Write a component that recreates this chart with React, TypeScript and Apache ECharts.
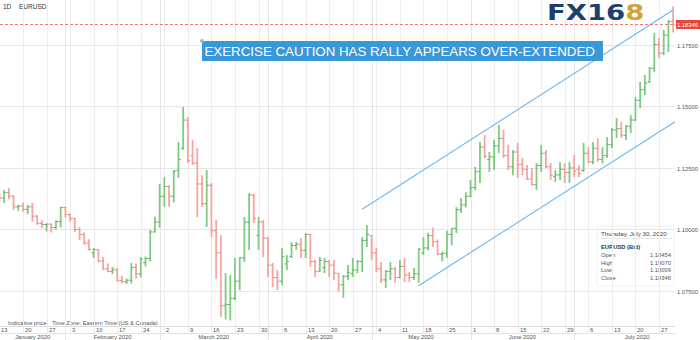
import { useEffect, useRef } from "react";
import * as echarts from "echarts";

// ---- data: daily OHLC bars (EURUSD, 1D), in bar-position order ----
const OPEN = [
  1.1135, 1.1128, 1.115, 1.1136, 1.1092, 1.1096, 1.1082, 1.1092, 1.1054, 1.1025,
  1.102, 1.1022, 1.1008, 1.1032, 1.109, 1.106, 1.1044, 1.1, 1.098, 1.0945,
  1.0905, 1.0918, 1.0872, 1.084, 1.083, 1.0836, 1.0792, 1.0788, 1.0794, 1.0846,
  1.082, 1.0866, 1.0882, 1.099, 1.103, 1.1135, 1.1175, 1.1135, 1.124, 1.133,
  1.1445, 1.13, 1.127, 1.1185, 1.1105, 1.118, 1.0995, 1.0905, 1.069, 1.0695,
  1.072, 1.079, 1.0885, 1.103, 1.114, 1.0975, 1.103, 1.0965, 1.0855, 1.0805,
  1.079, 1.086, 1.089, 1.0935, 1.094, 1.0915, 1.098, 1.087, 1.083, 1.0845,
  1.087, 1.0855, 1.0822, 1.0775, 1.081, 1.082, 1.0835, 1.087, 1.0955, 1.0975,
  1.0905, 1.084, 1.0795, 1.083, 1.084, 1.0805, 1.085, 1.0815, 1.0805, 1.082,
  1.0905, 1.0925, 1.0975, 1.095, 1.09, 1.0903, 1.098, 1.1005, 1.108, 1.11,
  1.1135, 1.117, 1.1235, 1.1335, 1.1285, 1.1295, 1.134, 1.137, 1.13, 1.1255,
  1.1315, 1.1265, 1.1245, 1.1205, 1.1182, 1.126, 1.131, 1.1255, 1.1215, 1.1222,
  1.1245, 1.1232, 1.125, 1.1245, 1.124, 1.131, 1.1275, 1.133, 1.1285, 1.13,
  1.1345, 1.1405, 1.141, 1.1383, 1.142, 1.1445, 1.1525, 1.1568, 1.16, 1.1655,
  1.1752, 1.1717, 1.179, 1.18454,
];
const HIGH = [
  1.1146, 1.1161, 1.1169, 1.114, 1.11, 1.111, 1.11, 1.1108, 1.106, 1.1038,
  1.1024, 1.1024, 1.1038, 1.1092, 1.1092, 1.1066, 1.1048, 1.101, 1.0988, 1.096,
  1.0925, 1.092, 1.0888, 1.0862, 1.0848, 1.0843, 1.0812, 1.08, 1.0864, 1.0862,
  1.0888, 1.089, 1.0998, 1.1052, 1.1185, 1.1213, 1.118, 1.1242, 1.1356, 1.1498,
  1.1457, 1.1364, 1.1331, 1.1221, 1.1242, 1.1189, 1.1039, 1.0977, 1.0823, 1.0815,
  1.0884, 1.0888, 1.1051, 1.1148, 1.1145, 1.1051, 1.1039, 1.0969, 1.0864, 1.0835,
  1.0925, 1.0896, 1.0949, 1.095, 1.0965, 1.0986, 1.0982, 1.0876, 1.0888, 1.0884,
  1.0876, 1.0876, 1.0823, 1.0815, 1.0856, 1.0884, 1.0876, 1.0969, 1.1018, 1.0977,
  1.0925, 1.0868, 1.0835, 1.0868, 1.0848, 1.0876, 1.0884, 1.0827, 1.0843, 1.0925,
  1.0969, 1.0986, 1.1008, 1.096, 1.091, 1.0995, 1.1005, 1.1091, 1.1128, 1.1152,
  1.1201, 1.1254, 1.1356, 1.1384, 1.1315, 1.1364, 1.1425, 1.1405, 1.1344, 1.1323,
  1.1352, 1.1291, 1.1262, 1.125, 1.127, 1.1344, 1.1323, 1.127, 1.1242, 1.1274,
  1.127, 1.1274, 1.1303, 1.126, 1.1352, 1.1335, 1.1356, 1.1372, 1.1335, 1.1376,
  1.1413, 1.1453, 1.1437, 1.1425, 1.1465, 1.1539, 1.16, 1.1628, 1.1661, 1.1799,
  1.1778, 1.1811, 1.1852, 1.1907,
];
const LOW = [
  1.1114, 1.1108, 1.1122, 1.108, 1.1075, 1.1072, 1.1062, 1.1032, 1.1019, 1.1006,
  1.0992, 1.0988, 1.1, 1.1008, 1.1048, 1.1032, 1.099, 1.0958, 1.0938, 1.0915,
  1.0884, 1.0866, 1.0836, 1.0826, 1.0818, 1.0788, 1.0782, 1.0778, 1.078, 1.08,
  1.0805, 1.085, 1.087, 1.0988, 1.1008, 1.1092, 1.1092, 1.111, 1.1209, 1.1324,
  1.127, 1.1262, 1.105, 1.1092, 1.101, 1.0969, 1.08, 1.0645, 1.0635, 1.063,
  1.0713, 1.0754, 1.0868, 1.0917, 1.1026, 1.0917, 1.0888, 1.0807, 1.0766, 1.0754,
  1.0774, 1.0835, 1.0884, 1.0918, 1.0884, 1.0884, 1.0848, 1.0807, 1.0827, 1.0823,
  1.0807, 1.0795, 1.0746, 1.0722, 1.0795, 1.0807, 1.0823, 1.0827, 1.0929, 1.0876,
  1.0827, 1.0783, 1.0762, 1.0795, 1.0783, 1.0802, 1.0786, 1.0786, 1.0795, 1.0783,
  1.0896, 1.0915, 1.0929, 1.0896, 1.087, 1.0885, 1.0935, 1.0985, 1.1067, 1.109,
  1.1132, 1.116, 1.1189, 1.129, 1.1234, 1.1242, 1.1311, 1.1291, 1.1242, 1.1221,
  1.1209, 1.1221, 1.1201, 1.118, 1.1161, 1.1234, 1.125, 1.1201, 1.1193, 1.1201,
  1.1189, 1.1189, 1.1213, 1.1213, 1.1234, 1.127, 1.1265, 1.1275, 1.1268, 1.1291,
  1.1331, 1.1372, 1.1372, 1.1364, 1.1392, 1.144, 1.1494, 1.1547, 1.1596, 1.164,
  1.1697, 1.1709, 1.1721, 1.18009,
];
const CLOSE = [
  1.1128, 1.115, 1.1136, 1.1092, 1.1096, 1.1082, 1.1092, 1.1054, 1.1025, 1.102,
  1.1022, 1.1008, 1.1032, 1.109, 1.106, 1.1044, 1.1, 1.098, 1.0945, 1.0918,
  1.0918, 1.0872, 1.084, 1.083, 1.0836, 1.0792, 1.0788, 1.0794, 1.0846, 1.082,
  1.088, 1.0882, 1.099, 1.103, 1.1135, 1.1175, 1.1135, 1.1237, 1.1285, 1.1445,
  1.128, 1.127, 1.1185, 1.1105, 1.118, 1.0995, 1.0905, 1.069, 1.0695, 1.072,
  1.079, 1.0885, 1.103, 1.114, 1.1045, 1.103, 1.0965, 1.0855, 1.0805, 1.079,
  1.089, 1.087, 1.0935, 1.094, 1.0915, 1.098, 1.087, 1.083, 1.0875, 1.087,
  1.0855, 1.0822, 1.0775, 1.081, 1.0826, 1.0835, 1.087, 1.0955, 1.098, 1.0905,
  1.084, 1.0795, 1.083, 1.084, 1.0805, 1.085, 1.0815, 1.0805, 1.082, 1.092,
  1.0925, 1.0975, 1.095, 1.09, 1.0903, 1.098, 1.1005, 1.108, 1.11, 1.1135,
  1.117, 1.1235, 1.1335, 1.1295, 1.1295, 1.134, 1.137, 1.13, 1.1255, 1.1315,
  1.1265, 1.1245, 1.1205, 1.1182, 1.126, 1.131, 1.1255, 1.122, 1.1222, 1.1245,
  1.1232, 1.125, 1.1238, 1.1228, 1.131, 1.1275, 1.133, 1.1285, 1.13, 1.1345,
  1.1405, 1.141, 1.1383, 1.142, 1.1445, 1.1525, 1.1568, 1.1595, 1.1655, 1.1752,
  1.1717, 1.179, 1.1845, 1.18346,
];

// weekly ticks (every 5 bar slots), month labels and their first bar slot
const WEEK_LABELS = [
  "13", "20", "27", "3", "10", "17", "24", "2", "9", "16", "23", "30", "6", "13",
  "20", "27", "4", "11", "18", "25", "1", "8", "15", "22", "29", "6", "13", "20", "27",
];
const MONTH_LABELS = ["January 2020", "February 2020", "March 2020", "April 2020", "May 2020", "June 2020", "July 2020"];
const MONTH_START = [null, 14, 34, 57, 79, 100, 122];
const PRICE_TICKS = [1.075, 1.1, 1.125, 1.15, 1.175];
const LAST_PRICE = 1.18346;
const CHANNEL_UPPER = [[77.0, 1.10821], [143.0, 1.18923]];
const CHANNEL_LOWER = [[88.9, 1.07703], [143.4, 1.14382]];
const TOOLTIP_ROWS = [["Open", "1.18454"], ["High", "1.19070"], ["Low", "1.18009"], ["Close", "1.18346"]];

const X_MIN = 0.119;
const X_MAX = 143.4;
const Y_MIN = 1.06077;
const Y_MAX = 1.19329;

const FONT = "Liberation Sans, Arial, sans-serif";
const UP = "#82c984";
const DOWN = "#f6a6a2";

function buildOption(): any {
  const bars = OPEN.map((o, i) => [i, o, CLOSE[i], LOW[i], HIGH[i]]);
  const weeks = WEEK_LABELS.map((_, i) => [i * 5, 0]);
  const months = MONTH_LABELS.map((_, i) => [
    MONTH_START[i] == null ? X_MIN : (MONTH_START[i] as number),
    i + 1 < MONTH_START.length ? (MONTH_START[i + 1] as number) : X_MAX + 5.3,
    i,
  ]);

  return {
    animation: false,
    grid: { left: 0, right: 25, top: 0, bottom: 14 },
    xAxis: { type: "value", min: X_MIN, max: X_MAX, show: false },
    yAxis: { type: "value", min: Y_MIN, max: Y_MAX, show: false },
    series: [
      {
        type: "custom",
        name: "hgrid",
        z: 1,
        clip: false,
        silent: true,
        data: PRICE_TICKS.map((v) => [X_MIN, v]),
        encode: { x: 0, y: 1 },
        renderItem: (params: any, api: any) => {
          const cs = params.coordSys;
          const pt = api.coord([X_MIN, api.value(1)]);
          const y = Math.round(pt[1]) + 0.5;
          return {
            type: "group",
            children: [
              { type: "line", shape: { x1: cs.x, y1: y, x2: cs.x + cs.width - 1, y2: y }, style: { stroke: "#e6e6e6", lineWidth: 1 } },
              {
                type: "text",
                x: cs.x + cs.width + 2,
                y: y,
                style: { text: api.value(1).toFixed(5), fill: "#555", fontSize: 5.8, fontFamily: FONT, align: "left", verticalAlign: "middle" },
              },
            ],
          };
        },
      },
      {
        type: "custom",
        name: "weeks",
        z: 1,
        clip: false,
        silent: true,
        data: weeks,
        encode: { x: 0, y: 1 },
        renderItem: (params: any, api: any) => {
          const cs = params.coordSys;
          const pt = api.coord([api.value(0), Y_MAX]);
          const x = Math.round(pt[0]) + 0.5;
          const bottom = cs.y + cs.height;
          return {
            type: "group",
            children: [
              { type: "line", shape: { x1: x, y1: cs.y, x2: x, y2: bottom + 7 }, style: { stroke: "#ececec", lineWidth: 1 } },
              {
                type: "text",
                x: x + 1.5,
                y: bottom + 3.8,
                style: { text: WEEK_LABELS[params.dataIndex], fill: "#555", fontSize: 5.8, fontFamily: FONT, align: "left", verticalAlign: "middle" },
              },
            ],
          };
        },
      },
      {
        type: "custom",
        name: "months",
        z: 1,
        clip: false,
        silent: true,
        data: months,
        encode: { x: [0, 1] },
        renderItem: (params: any, api: any) => {
          const cs = params.coordSys;
          const idx = params.dataIndex;
          const a = api.coord([api.value(0), Y_MAX]);
          const b = api.coord([api.value(1), Y_MAX]);
          const bottom = cs.y + cs.height;
          const x = Math.round(a[0]) + 0.5;
          const children: any[] = [];
          if (MONTH_START[idx] != null) {
            children.push({ type: "line", shape: { x1: x, y1: cs.y, x2: x, y2: bottom + 14 }, style: { stroke: "#e6e6e6", lineWidth: 1 } });
          }
          children.push({
            type: "text",
            x: (Math.max(a[0], cs.x) + b[0]) / 2,
            y: bottom + 10.8,
            style: { text: MONTH_LABELS[idx], fill: "#555", fontSize: 5.8, fontFamily: FONT, align: "center", verticalAlign: "middle" },
          });
          return { type: "group", children };
        },
      },
      {
        type: "custom",
        name: "EURUSD",
        z: 3,
        clip: true,
        silent: true,
        data: bars,
        encode: { x: 0, y: [1, 2, 3, 4] },
        renderItem: (params: any, api: any) => {
          const p = api.value(0);
          const o = api.value(1);
          const c = api.value(2);
          const hi = api.coord([p, api.value(4)]);
          const lo = api.coord([p, api.value(3)]);
          const op = api.coord([p, o]);
          const cl = api.coord([p, c]);
          const color = c >= o ? UP : DOWN;
          const tick = c >= o ? "#5fb062" : "#ef8580";
          const x = hi[0];
          return {
            type: "group",
            children: [
              { type: "line", shape: { x1: x, y1: hi[1], x2: x, y2: lo[1] }, style: { stroke: color, lineWidth: 1.8 } },
              { type: "line", shape: { x1: x - 2.2, y1: op[1], x2: x, y2: op[1] }, style: { stroke: tick, lineWidth: 1 } },
              { type: "line", shape: { x1: x, y1: cl[1], x2: x + 2.2, y2: cl[1] }, style: { stroke: tick, lineWidth: 1 } },
            ],
          };
        },
      },
      {
        type: "line",
        name: "channelUpper",
        z: 4,
        silent: true,
        showSymbol: false,
        data: CHANNEL_UPPER,
        lineStyle: { color: "#6cb7ee", width: 1.1 },
      },
      {
        type: "line",
        name: "channelLower",
        z: 4,
        silent: true,
        showSymbol: false,
        data: CHANNEL_LOWER,
        lineStyle: { color: "#6cb7ee", width: 1.1 },
      },
      {
        type: "custom",
        name: "last",
        z: 5,
        clip: false,
        silent: true,
        data: [[X_MIN, LAST_PRICE]],
        encode: { x: 0, y: 1 },
        renderItem: (params: any, api: any) => {
          const cs = params.coordSys;
          const pt = api.coord([X_MIN, api.value(1)]);
          const y = Math.round(pt[1]) + 0.5;
          const right = cs.x + cs.width;
          return {
            type: "group",
            children: [
              { type: "line", shape: { x1: cs.x, y1: y, x2: right, y2: y }, style: { stroke: "#f07b74", lineWidth: 1, lineDash: [3, 2] } },
              { type: "rect", shape: { x: right + 1, y: y - 4.5, width: 24, height: 9 }, style: { fill: "#e9453b" } },
              {
                type: "text",
                x: right + 2,
                y: y,
                style: { text: api.value(1).toFixed(5), fill: "#fff", fontSize: 5.8, fontFamily: FONT, align: "left", verticalAlign: "middle" },
              },
            ],
          };
        },
      },
    ],
    graphic: [
      { type: "line", silent: true, shape: { x1: 0, y1: 326.5, x2: 675, y2: 326.5 }, style: { stroke: "#dcdcdc", lineWidth: 1 } },
      { type: "line", silent: true, shape: { x1: 0, y1: 333.5, x2: 675, y2: 333.5 }, style: { stroke: "#e4e4e4", lineWidth: 1 } },
      { type: "text", silent: true, x: 3, y: 6.5, style: { text: "1D", fill: "#333", fontSize: 6.5, fontFamily: FONT, verticalAlign: "middle" } },
      { type: "text", silent: true, x: 19, y: 6.5, style: { text: "EURUSD", fill: "#333", fontSize: 6.5, fontFamily: FONT, verticalAlign: "middle" } },
      { type: "text", silent: true, x: 8, y: 322.5, style: { text: "Indicative price", fill: "#555", fontSize: 5.8, fontFamily: FONT, verticalAlign: "middle" } },
      { type: "text", silent: true, x: 52, y: 322.5, style: { text: "Time Zone: Eastern Time (US & Canada)", fill: "#555", fontSize: 5.8, fontFamily: FONT, verticalAlign: "middle" } },
      // annotation
      { type: "rect", silent: true, z: 10, shape: { x: 202, y: 41, width: 401, height: 20 }, style: { fill: "#3a98d8" } },
      {
        type: "text",
        silent: true,
        z: 11,
        x: 204.5,
        y: 51.5,
        style: { text: "EXERCISE CAUTION HAS RALLY APPEARS OVER-EXTENDED", fill: "#fff", fontSize: 13.3, fontFamily: FONT, verticalAlign: "middle" },
      },
      { type: "circle", silent: true, z: 12, shape: { cx: 202, cy: 41, r: 2 }, style: { fill: "#7cc2f0" } },
      // logo
      {
        type: "text",
        silent: true,
        z: 12,
        x: 547,
        y: 1.5,
        scaleX: 1.25,
        style: {
          text: "{a|FX16}{b|8}",
          verticalAlign: "top",
          rich: {
            a: { fill: "#1c3e70", fontSize: 22, fontWeight: "bold", fontFamily: "DejaVu Sans", textStroke: "#1c3e70", lineWidth: 1 },
            b: { fill: "#cfa53a", fontSize: 22, fontWeight: "bold", fontFamily: "DejaVu Sans", textStroke: "#b8912c", lineWidth: 1 },
          },
        },
      },
      // tooltip
      {
        type: "group",
        silent: true,
        z: 12,
        children: [
          { type: "rect", shape: { x: 597, y: 226, width: 77, height: 60, r: 2 }, style: { fill: "rgba(255,255,255,0.88)", stroke: "rgba(0,0,0,0.06)" } },
          { type: "text", x: 601, y: 233.3, style: { text: "Thursday, July 30, 2020", fill: "#444", fontSize: 6.2, fontFamily: FONT, verticalAlign: "middle" } },
          { type: "line", shape: { x1: 599, y1: 238.5, x2: 672, y2: 238.5 }, style: { stroke: "#e8e8e8", lineWidth: 1 } },
          { type: "text", x: 601, y: 246.5, style: { text: "EURUSD (Bid)", fill: "#333", fontSize: 5.8, fontWeight: "bold", fontFamily: FONT, verticalAlign: "middle" } },
          ...TOOLTIP_ROWS.flatMap((r, i) => [
            { type: "text", x: 601, y: 255 + i * 7.6, style: { text: r[0], fill: "#555", fontSize: 5.8, fontFamily: FONT, verticalAlign: "middle" } },
            { type: "text", x: 671, y: 255 + i * 7.6, style: { text: r[1], fill: "#555", fontSize: 5.8, fontFamily: FONT, align: "right", verticalAlign: "middle" } },
          ]),
        ],
      },
    ],
  };
}

export default function App() {
  const ref = useRef<HTMLDivElement>(null);
  useEffect(() => {
    if (!ref.current) return;
    const chart = echarts.init(ref.current, null, { renderer: "svg" });
    chart.setOption(buildOption());
    return () => chart.dispose();
  }, []);
  return (
    <div
      ref={ref}
      style={{ position: "fixed", left: 0, top: 0, width: 700, height: 340, background: "#fff" }}
    />
  );
}
